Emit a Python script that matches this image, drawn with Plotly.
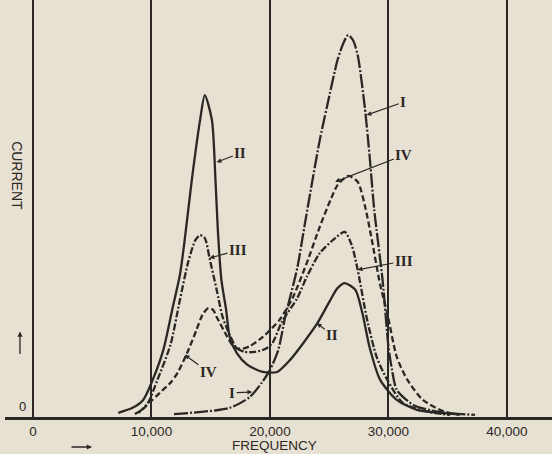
import plotly.graph_objects as go

# Frequency (cycles) and relative current (0-100 arbitrary units)
freq_I = [11900, 16600, 18300, 19300, 20000, 20700, 21300, 22300, 22900, 23500, 24200, 24800,
          25700, 26200, 26600, 27000, 27400, 28000, 28400, 28800, 29500, 30000, 30300, 30700,
          32100, 34300, 37300]
cur_I = [0.7, 2.2, 4.8, 8.2, 11.3, 16.1, 24.2, 35.7, 45.6, 55.4, 66.4, 74.3,
         85.6, 89.7, 91.6, 90.4, 86.8, 74.3, 62.8, 49.6, 32.9, 16.8, 11.3, 6.5,
         2.9, 1.2, 0.5]

freq_II = [7200, 8400, 9300, 10100, 11000, 11800, 12400, 12800, 13400, 14100, 14500, 15100,
           15400, 15600, 15900, 16300, 16600, 17200, 18100, 19400, 20600, 21700, 22800, 24000,
           25100, 25700, 26300, 27200, 27800, 28400, 29300, 30700, 32400, 34300, 35600]
cur_II = [1.0, 2.2, 4.1, 8.9, 16.1, 26.4, 34.1, 42.4, 56.8, 71.2, 77.2, 71.2,
          56.8, 44.8, 32.9, 25.7, 19.2, 15.3, 12.5, 10.8, 10.8, 13.7, 17.7, 22.5,
          28.1, 30.9, 32.1, 30.5, 24.9, 16.8, 8.9, 4.1, 1.7, 1.0, 0.7]

freq_III = [8900, 9700, 10500, 11600, 12400, 13100, 13700, 14100, 14500, 14900, 15500, 16000,
            16600, 17200, 17900, 18700, 19600, 20200, 21000, 22300, 23100, 24200, 25300, 26300,
            26900, 27400, 28200, 29000, 29900, 31200, 33100, 35200]
cur_III = [1.0, 3.4, 8.9, 17.3, 28.1, 37.2, 42.4, 43.6, 42.9, 38.1, 30.5, 24.0,
           19.7, 16.5, 15.6, 15.6, 16.3, 17.7, 22.8, 28.5, 33.6, 39.3, 42.4, 44.4,
           41.2, 35.3, 23.3, 14.4, 8.9, 3.4, 1.4, 0.5]

freq_IV = [8600, 9200, 9900, 10700, 11600, 12200, 13000, 13800, 14300, 14800, 15200, 15500,
           16400, 16900, 17500, 18300, 19400, 20800, 21900, 23100, 24200, 25100, 25700, 26600,
           27400, 28000, 28600, 29300, 29900, 30700, 31600, 32900, 34600, 36000]
cur_IV = [0.7, 1.7, 3.6, 5.8, 8.2, 10.6, 15.3, 20.9, 24.5, 26.1, 25.7, 24.0,
          19.2, 17.0, 16.3, 17.0, 19.2, 23.3, 28.5, 36.9, 45.6, 52.0, 55.6, 57.8,
          56.4, 50.8, 42.4, 31.7, 24.9, 14.4, 8.9, 4.1, 1.4, 0.5]

tick_vals = [0, 10000, 20000, 30000, 40000]
tick_text = ["0", "10,000", "20,000", "30,000", "40,000"]

PAPER = "#e7e1d3"
INK = "#2b2724"

fig = go.Figure()
line_common = dict(color=INK, width=2.3, shape="spline", smoothing=0.7)
fig.add_trace(go.Scatter(x=freq_I, y=cur_I, mode="lines", name="I",
                         line=dict(**line_common, dash="14px,2px,2px,2px")))
fig.add_trace(go.Scatter(x=freq_II, y=cur_II, mode="lines", name="II",
                         line=dict(**line_common)))
fig.add_trace(go.Scatter(x=freq_III, y=cur_III, mode="lines", name="III",
                         line=dict(**line_common, dash="7px,2px,2px,2px")))
fig.add_trace(go.Scatter(x=freq_IV, y=cur_IV, mode="lines", name="IV",
                         line=dict(**line_common, dash="6px,3px")))

roman = dict(family="Liberation Serif, DejaVu Serif, serif", size=15, color=INK)
sans = dict(family="Liberation Sans, Arial, sans-serif", size=14, color=INK)

labels = [
    # text, tip x, tip y, label x, label y
    ("II", 15500, 61.1, 17500, 63.3),
    ("III", 14900, 38.1, 17300, 40.0),
    ("IV", 12800, 14.9, 14800, 10.8),
    ("I", 18500, 6.0, 16800, 5.8),
    ("I", 28150, 72.4, 31250, 75.5),
    ("IV", 25500, 56.4, 31300, 62.8),
    ("III", 27400, 35.3, 31300, 37.4),
    ("II", 23950, 22.5, 25250, 19.7),
]
for t, x, y, ax, ay in labels:
    fig.add_annotation(x=x, y=y, ax=ax, ay=ay, xref="x", yref="y", axref="x", ayref="y",
                       text="<b>%s</b>" % t, font=roman, showarrow=True, arrowhead=2,
                       arrowsize=0.8, arrowwidth=1.2, arrowcolor=INK, standoff=0)

# axis words and arrows
fig.add_annotation(x=-850, y=2.4, xref="x", yref="y", text="0", showarrow=False,
                   font=dict(family=sans["family"], size=13, color=INK))
fig.add_annotation(x=-1350, y=58, xref="x", yref="y", text="CURRENT", textangle=90,
                   showarrow=False, font=sans)
fig.add_annotation(x=-1100, y=20.5, xref="x", yref="y", ax=0, ay=24, text="",
                   showarrow=True, arrowhead=2, arrowsize=0.8, arrowwidth=1.3, arrowcolor=INK)
fig.add_annotation(x=4980, y=-0.072, xref="x", yref="paper", ax=-22, ay=0, text="",
                   showarrow=True, arrowhead=2, arrowsize=0.8, arrowwidth=1.3, arrowcolor=INK)
fig.add_annotation(x=20340, y=-0.0887, xref="x", yref="paper", yanchor="bottom",
                   borderpad=0, text="FREQUENCY", showarrow=False,
                   font=dict(family=sans["family"], size=13.5, color=INK))

fig.update_layout(
    width=552, height=454,
    margin=dict(l=5, r=0, t=0, b=37),
    paper_bgcolor=PAPER, plot_bgcolor=PAPER,
    showlegend=False,
    xaxis=dict(range=[-2363, 43800], tickvals=tick_vals, ticktext=tick_text,
               showgrid=True, gridcolor=INK, gridwidth=1.5, zeroline=False,
               showline=True, linecolor=INK, linewidth=3, ticks="",
               tickfont=dict(family=sans["family"], size=13.5, color=INK),
               ticklabelstandoff=0, fixedrange=True),
    yaxis=dict(range=[0, 100], showgrid=False, zeroline=False, showticklabels=False,
               showline=False, ticks="", fixedrange=True),
)

fig.write_html("out.html", config={"displayModeBar": False},
               post_script="document.body.style.margin='0';document.body.style.overflow='hidden';")
